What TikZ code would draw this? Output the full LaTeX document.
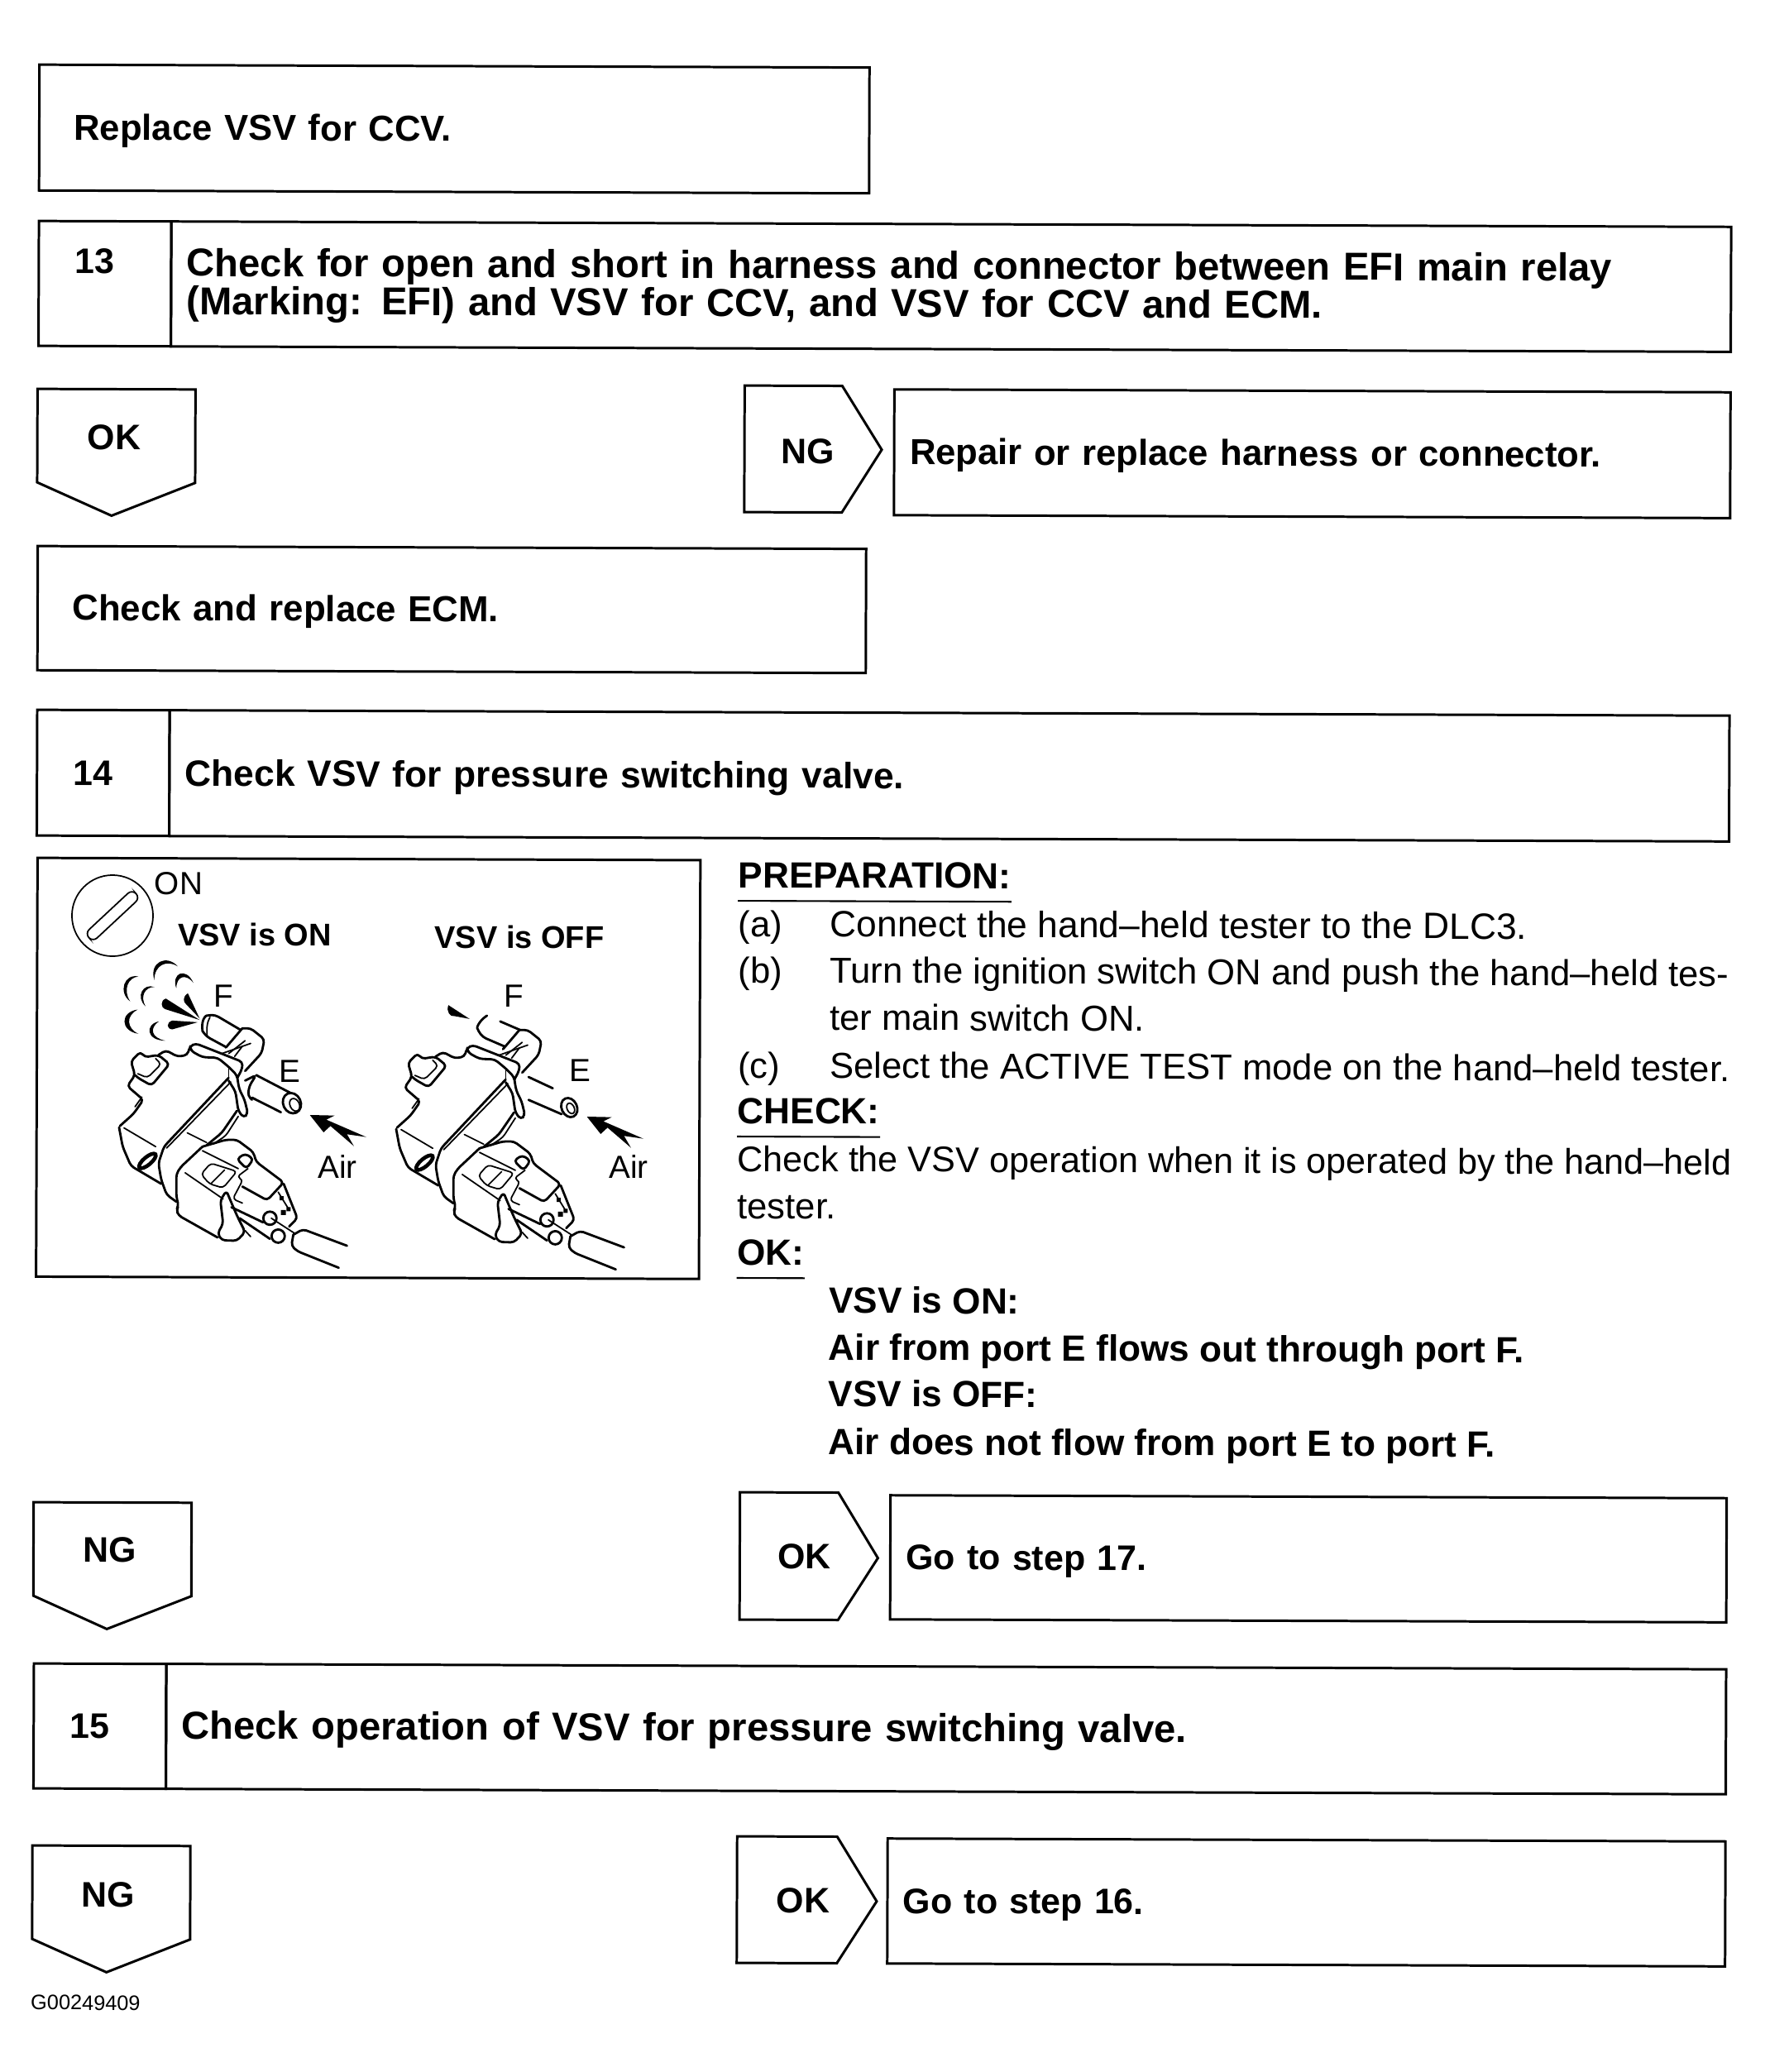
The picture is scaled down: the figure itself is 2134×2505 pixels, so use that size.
\documentclass[tikz,border=0pt]{standalone}
\usepackage{fontspec}
\setmainfont{Liberation Sans}
\newcommand{\stepfont}[1]{\fontsize{#1}{13.1}\selectfont\bfseries}
\newcommand{\bodyfont}{\fontsize{12.4}{13}\selectfont}
\tikzset{
  boxline/.style={draw=black, line width=0.85pt},
  wide/.style={text width=#1*0.01cm-0.38cm},
  textbox/.style={boxline, anchor=north west, align=left, outer sep=0pt, inner xsep=0.19cm, inner ysep=0pt, font=\stepfont{12.2}},
  numbox/.style={textbox, inner xsep=0.44cm, text width=0.72cm, minimum height=#1*0.01cm},
  tagline/.style={boxline, line join=miter},
  taglabel/.style={font=\stepfont{12.2}, inner sep=0pt},
  bodytext/.style={anchor=base west, inner sep=0pt, font=\bodyfont},
  boldtext/.style={bodytext, font=\fontsize{12.55}{13}\selectfont\bfseries},
  uline/.style={line width=0.6pt},
  vline/.style={line width=0.5pt, line join=round, line cap=round, rounded corners=1.2pt},
  vthick/.style={vline, line width=0.8pt},
  partlabel/.style={font=\fontsize{11}{12}\selectfont, inner sep=0pt},
  valvebody/.pic={
    % bracket and top of the housing
    \draw[vthick] (45,695) -- (95,650) -- (130,600) -- (72,550) -- (100,510) -- (85,460) -- (120,425) -- (135,445) -- (185,437) -- (225,470) -- (160,548) -- (110,520) -- (100,510);
    \draw[vline] (110,505) -- (145,520) -- (195,470) -- (175,450);
    \draw[vline] (100,625) -- (125,590);
    \draw[vthick] (185,437) -- (212,420) -- (255,443) -- (290,437) -- (300,405) -- (320,395) -- (490,462) -- (490,485) -- (472,520);
    \draw[vthick] (300,405) -- (303,422) -- (345,445) -- (400,447) -- (440,480) -- (470,510) -- (478,560) -- (498,600) -- (510,650) -- (495,665) -- (475,640) -- (465,570) -- (440,530);
    \draw[vline] (440,480) -- (440,520);
    % diagonal bands
    \draw[vthick] (440,520) -- (205,770) -- (195,800) -- (185,830) -- (195,890) -- (215,945) -- (250,970);
    \draw[vline] (448,535) -- (215,775);
    \draw[vthick] (470,640) -- (415,720) -- (360,765);
    \draw[vline] (475,660) -- (430,730) -- (385,760);
    \draw[vline] (290,720) -- (360,755);
    % lower block and its hole
    \draw[vthick] (42,700) -- (55,770) -- (85,840) -- (195,905);
    \draw[vline] (60,702) -- (175,770);
    \draw[line width=1.3pt, rotate around={40:(145,822)}] (145,822) ellipse (38 and 14);
    % connector
    \draw[vthick] (345,770) -- (265,845) -- (250,870) -- (250,950) -- (258,985) -- (250,1000) -- (258,1020) -- (400,1100);
    \draw[vthick] (345,770) -- (430,745) -- (470,745) -- (530,790) -- (540,825) -- (640,900) -- (580,965) -- (490,915);
    \draw[vline] (345,785) -- (475,850);
    \draw[vline] (282,865) -- (420,960);
    \draw[vline] (340,870) -- (375,830) -- (470,860) -- (420,920) -- (370,905) -- cycle;
    \draw[vline] (375,905) -- (425,855);
    \draw[vthick] (470,815) -- (500,795) -- (530,815) -- (505,850) -- cycle;
    \draw[vline] (510,850) -- (470,880) -- (492,890) -- (455,960) -- (490,975);
    % latch
    \draw[vthick] (432,930) -- (410,965) -- (420,1050) -- (400,1085) -- (415,1110) -- (470,1112) -- (500,1080) -- (470,1020) -- (440,950) -- cycle;
    \draw[vthick] (450,990) -- (565,1045);
    \draw[vthick] (480,1030) -- (590,1105);
    \draw[vline] (500,1075) -- (520,1097);
    % terminals
    \draw[vthick] (640,905) -- (690,1030) -- (660,1060);
    \draw[vline] (620,935) -- (660,1000);
    \fill (625,950) rectangle (640,965) (650,990) rectangle (665,1005) (630,1000) rectangle (648,1018);
    \draw[vthick] (590,1030) circle (24);
    \draw[vthick] (620,1095) circle (24);
    \draw[vline] (595,1030) -- (680,1085);
    % wires
    \draw[vthick] (675,1090) -- (710,1070) -- (870,1130);
    \draw[vthick] (675,1090) -- (668,1130) -- (690,1150) -- (840,1210);
    % bracket around the upper port
    \draw[vthick] (490,340) -- (520,340) -- (570,380) -- (560,430) -- (500,495);
    \draw[vthick] (490,340) -- (430,410);
    \draw[vline] (415,432) -- (520,395);
    \draw[vline] (440,432) -- (500,385) (462,442) -- (490,405);
  },
  airarrow/.pic={
    \fill (735,655) -- (825,657) -- (795,672) -- (940,735) -- (870,725) -- (895,768) -- (810,695) -- (785,718) -- cycle;
  }
}
\begin{document}
\begin{tikzpicture}[x=0.01cm,y=-0.01cm]
  \useasboundingbox (0,0) rectangle (2134,2505);
  \begin{scope}[rotate=-0.2, transform shape]
    % step boxes
    \node[textbox, font=\stepfont{12.4}, inner xsep=0.42cm, text width=9.19cm, minimum height=1.52cm, text height=10.9pt] (replace) at (48,78) {Replace VSV for CCV.};
    \node[numbox=151, text depth=15.4pt] (n13) at (48,267) {13};
    \node[textbox, font=\stepfont{13.4}, wide=1886, minimum height=1.51cm, text height=10.6pt] (t13) at (n13.north east) {Check for open and short in harness and connector between EFI main relay\\(Marking: EFI) and VSV for CCV, and VSV for CCV and ECM.};
    \node[textbox, font=\stepfont{12.4}, wide=1011, minimum height=1.52cm, text height=10.9pt] (repair) at (1083,467) {Repair or replace harness or connector.};
    \node[textbox, font=\stepfont{12.45}, inner xsep=0.42cm, text width=9.17cm, minimum height=1.5cm, text height=10.9pt] (ecm) at (48,660) {Check and replace ECM.};
    \node[numbox=152] (n14) at (48,858) {14};
    \node[textbox, font=\stepfont{12.6}, wide=1886, minimum height=1.52cm, text height=11.5pt] (t14) at (n14.north east) {Check VSV for pressure switching valve.};
    \node[textbox, wide=1011, minimum height=1.5cm, text height=10.9pt] (go17) at (1083,1804) {Go to step 17.};
    \node[numbox=151] (n15) at (48,2011) {15};
    \node[textbox, font=\stepfont{13.4}, wide=1886, minimum height=1.51cm, text height=11.5pt] (t15) at (n15.north east) {Check operation of VSV for pressure switching valve.};
    \node[textbox, wide=1013, minimum height=1.51cm, text height=10.9pt] (go16) at (1081,2219) {Go to step 16.};
    % tags
    \node[taglabel] (okA) at (140,528) {OK};
    \draw[tagline] (47,470) -- (238,470) -- (238,583) -- (137,623) -- (47,583) -- cycle;
    \node[taglabel] (ngA) at (979,542) {NG};
    \draw[tagline] (902,463) -- (1020,463) -- (1068,540) -- (1020,616) -- (902,616) -- cycle;
    \node[taglabel] (ngB) at (139,1873) {NG};
    \draw[tagline] (47,1816) -- (238,1816) -- (238,1929) -- (136,1969) -- (47,1929) -- cycle;
    \node[taglabel] (okB) at (979,1878) {OK};
    \draw[tagline] (901,1801) -- (1020,1801) -- (1068,1880) -- (1020,1955) -- (901,1955) -- cycle;
    \node[taglabel] (ngC) at (139,2290) {NG};
    \draw[tagline] (47,2231) -- (238,2231) -- (238,2344) -- (137,2384) -- (47,2344) -- cycle;
    \node[taglabel] (okC) at (979,2294) {OK};
    \draw[tagline] (899,2217) -- (1020,2217) -- (1068,2295) -- (1020,2370) -- (899,2370) -- cycle;
    % frame of the figure
    \node[boxline, anchor=north west, minimum width=8.01cm, minimum height=5.06cm, outer sep=0pt] (figframe) at (49,1037) {};
    % instructions
    \node[boldtext] (prep) at (896,1070) {PREPARATION:};
    \draw[uline] ([yshift=-0.16cm]prep.base west) -- ([yshift=-0.16cm]prep.base east);
    \node[bodytext] (pa) at (896,1129) {(a)};
    \node[bodytext, font=\fontsize{12.6}{13}\selectfont] (pat) at (1007,1129) {Connect the hand--held tester to the DLC3.};
    \node[bodytext] (pb) at (896,1185) {(b)};
    \node[bodytext] (pbt) at (1007,1185) {Turn the ignition switch ON and push the hand--held tes-};
    \node[bodytext] (pbu) at (1007,1242) {ter main switch ON.};
    \node[bodytext] (pc) at (896,1300) {(c)};
    \node[bodytext] (pct) at (1007,1300) {Select the ACTIVE TEST mode on the hand--held tester.};
    \node[boldtext] (check) at (896,1355) {CHECK:};
    \draw[uline] ([yshift=-0.16cm]check.base west) -- ([yshift=-0.16cm]check.base east);
    \node[bodytext, font=\fontsize{12.27}{13}\selectfont] (ca) at (896,1413) {Check the VSV operation when it is operated by the hand--held};
    \node[bodytext] (cb) at (896,1470) {tester.};
    \node[boldtext] (okhead) at (896,1526) {OK:};
    \draw[uline] ([yshift=-0.16cm]okhead.base west) -- ([yshift=-0.16cm]okhead.base east);
    \node[boldtext] (oa) at (1007,1584) {VSV is ON:};
    \node[boldtext] (ob) at (1007,1641) {Air from port E flows out through port F.};
    \node[boldtext] (oc) at (1007,1697) {VSV is OFF:};
    \node[boldtext] (od) at (1007,1755) {Air does not flow from port E to port F.};
    \node[anchor=west, inner sep=0pt, font=\fontsize{7.2}{8}\selectfont] (code) at (45,2421) {G00249409};
  \end{scope}
  % key dial
  \node[draw, circle, line width=0.5pt, minimum size=0.98cm, inner sep=0pt] (dial) at (136,1107) {};
  \node[draw, rounded corners=2pt, line width=0.5pt, rotate=43, minimum width=0.78cm, minimum height=0.14cm, inner sep=0pt] (slot) at (dial) {};
  \node[partlabel] (onlabel) at (216,1068) {ON};
  \node[taglabel, font=\fontsize{10.8}{12}\selectfont\bfseries] (vsvon) at (308,1130) {VSV is ON};
  \node[taglabel, font=\fontsize{10.8}{12}\selectfont\bfseries] (vsvoff) at (628,1133) {VSV is OFF};
  \node[partlabel] (fon) at (270,1204) {F};
  \node[partlabel] (eon) at (350,1295) {E};
  \node[partlabel] (airon) at (408,1410) {Air};
  \node[partlabel] (foff) at (621,1204) {F};
  \node[partlabel] (eoff) at (701,1294) {E};
  \node[partlabel] (airoff) at (760,1410) {Air};
  % valve with air flowing
  \begin{scope}[shift={(130,1130)},x=0.003333cm,y=-0.003333cm]
    \pic {valvebody};
    \pic {airarrow};
    \draw[vthick] (345,350) .. controls (340,310) and (355,295) .. (372,292) -- (392,292) -- (482,345);
    \draw[vthick] (345,350) -- (360,370) -- (430,408);
    \draw[vline] (372,300) .. controls (360,320) and (360,345) .. (362,368);
    \draw[vthick] (540,510) -- (665,575);
    \draw[vthick] (525,592) -- (630,645);
    \draw[vthick] (500,530) -- (540,510) -- (515,550) -- (510,585) -- (525,600);
    \draw[vthick, rotate around={25:(670,612)}] (670,612) ellipse (32 and 38);
    \draw[vline, rotate around={25:(680,618)}] (680,618) ellipse (17 and 24);
    % drops and puffs
    \fill (335,310) -- (212,232) .. controls (190,240) and (195,265) .. (208,270) -- cycle;
    \fill (335,305) -- (292,213) .. controls (272,225) and (275,245) .. (285,252) -- cycle;
    \fill (328,318) -- (235,312) .. controls (212,320) and (215,342) .. (235,344) -- cycle;
    \fill (82,242) .. controls (38,210) and (60,140) .. (112,152) .. controls (75,155) and (55,200) .. (82,242) -- cycle;
    \fill (138,260) .. controls (100,225) and (130,175) .. (170,190) .. controls (135,190) and (118,225) .. (138,260) -- cycle;
    \fill (170,165) .. controls (150,100) and (215,70) .. (255,115) .. controls (215,90) and (170,110) .. (170,165) -- cycle;
    \fill (250,195) .. controls (230,140) and (285,115) .. (312,175) .. controls (285,140) and (250,150) .. (250,195) -- cycle;
    \fill (112,360) .. controls (45,350) and (45,280) .. (110,272) .. controls (65,295) and (70,340) .. (112,360) -- cycle;
    \fill (210,385) .. controls (140,385) and (135,325) .. (187,315) .. controls (150,340) and (160,375) .. (210,385) -- cycle;
  \end{scope}
  % valve with air stopped
  \begin{scope}[shift={(465,1132)},x=0.003333cm,y=-0.003333cm]
    \pic {valvebody};
    \pic {airarrow};
    \draw[vthick] (372,288) .. controls (345,305) and (335,330) .. (341,345) -- (357,366) -- (436,400);
    \draw[vthick] (420,309) -- (492,340);
    \draw[vthick] (523,511) -- (611,552);
    \draw[vthick] (523,594) -- (643,646);
    \draw[vthick, rotate around={25:(671,622)}] (671,622) ellipse (28 and 36);
    \draw[vline, rotate around={25:(676,625)}] (676,625) ellipse (13 and 20);
    \fill (309,300) -- (232,250) .. controls (222,270) and (238,295) .. (255,290) -- cycle;
  \end{scope}
\end{tikzpicture}
\end{document}
